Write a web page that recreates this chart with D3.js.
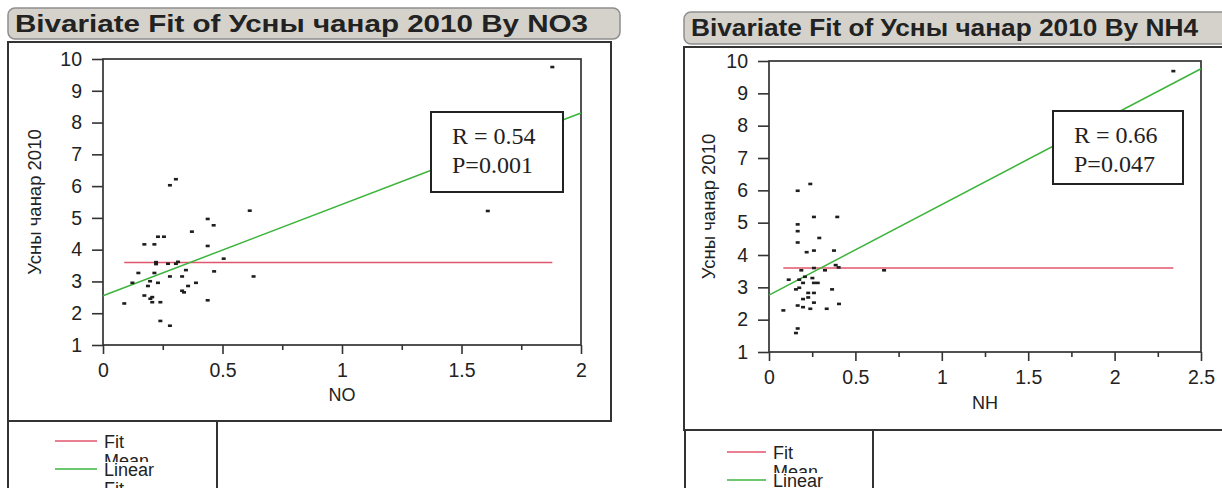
<!DOCTYPE html>
<html>
<head>
<meta charset="utf-8">
<script src="https://cdn.jsdelivr.net/npm/d3@7"></script>
<style>
  body { margin: 0; background: #fff; }
  svg { display: block; }
  text { font-family: "Liberation Sans", Arial, sans-serif; fill: #222; }
</style>
</head>
<body>
<div id="chart"></div>
<script>
// values
const yTitle = 'Усны чанар 2010';

// panel 1: Усны чанар 2010 by NO3
const noX = [0.305, 0.280, 0.614, 0.438, 0.463, 0.372, 0.230, 0.255, 0.173, 0.215,
             0.438, 0.505, 0.222, 0.222, 0.272, 0.305, 0.314, 0.347, 0.148, 0.215,
             0.465, 0.630, 0.280, 0.331, 0.197, 0.123, 0.230, 0.389, 0.188, 0.356,
             0.331, 0.339, 0.173, 0.206, 0.198, 0.206, 0.240, 0.438, 0.089, 0.240,
             0.280, 1.880, 1.610];
const noY = [6.22, 6.03, 5.23, 4.97, 4.77, 4.57, 4.41, 4.41, 4.17, 4.17,
             4.12, 3.72, 3.61, 3.55, 3.56, 3.56, 3.62, 3.36, 3.27, 3.27,
             3.32, 3.16, 3.16, 3.16, 3.01, 2.96, 2.96, 2.96, 2.86, 2.86,
             2.71, 2.66, 2.56, 2.51, 2.46, 2.35, 2.35, 2.41, 2.31, 1.76,
             1.61, 9.75, 5.22];
const noMean = { y: 3.6, from: 0.089, to: 1.88 };
const noLinear = [[0, 2.55], [2, 8.30]];
const noStats = ['R = 0.54', 'P=0.001'];

// panel 2: Усны чанар 2010 by NH4
const nhX = [0.239, 0.166, 0.260, 0.395, 0.166, 0.166, 0.291, 0.166, 0.218, 0.260,
             0.376, 0.386, 0.403, 0.260, 0.187, 0.324, 0.666, 0.208, 0.251, 0.114,
             0.175, 0.197, 0.260, 0.282, 0.175, 0.156, 0.365, 0.227, 0.260, 0.227,
             0.197, 0.260, 0.405, 0.166, 0.197, 0.239, 0.334, 0.083, 0.166, 0.156,
             2.340];
const nhY = [6.20, 5.99, 5.18, 5.18, 4.95, 4.74, 4.53, 4.39, 4.09, 4.14,
             4.14, 3.69, 3.62, 3.60, 3.53, 3.53, 3.53, 3.33, 3.29, 3.24,
             3.24, 3.14, 3.14, 3.14, 2.99, 2.94, 2.94, 2.83, 2.83, 2.69,
             2.64, 2.53, 2.49, 2.44, 2.39, 2.34, 2.34, 2.29, 1.73, 1.59,
             9.69];
const nhMean = { y: 3.6, from: 0.083, to: 2.34 };
const nhLinear = [[0, 2.76], [2.5, 9.76]];
const nhStats = ['R = 0.66', 'P=0.047'];

const yTicks = [1, 2, 3, 4, 5, 6, 7, 8, 9, 10];
const noTicks = [0, 0.5, 1, 1.5, 2];
const noMinor = [0.25, 0.75, 1.25, 1.75];
const nhTicks = [0, 0.5, 1, 1.5, 2, 2.5];
const nhMinor = [0.25, 0.75, 1.25, 1.75, 2.25];

const W = 1222, H = 488;
const svg = d3.select('#chart').append('svg')
    .attr('width', W)
    .attr('height', H);

const RED = '#e0566c', GREEN = '#3cb43c';

function drawPanel(p) {
    const g = svg.append('g');

    // title bar
    g.append('rect')
        .attr('x', p.title[0]).attr('y', p.title[1])
        .attr('width', p.title[2]).attr('height', p.title[3])
        .attr('rx', 7)
        .attr('fill', '#d5d2cb')
        .attr('stroke', '#8e8e8e')
        .attr('stroke-width', 1.5);
    g.append('text')
        .attr('x', p.title[0] + 7)
        .attr('y', p.titleBase)
        .attr('textLength', p.titleWidth)
        .attr('lengthAdjust', 'spacingAndGlyphs')
        .style('font-size', '24px')
        .style('font-weight', 'bold')
        .text(p.titleText);

    // outer frame + legend frame
    g.append('rect')
        .attr('x', p.frame[0]).attr('y', p.frame[1])
        .attr('width', p.frame[2]).attr('height', p.frame[3])
        .attr('fill', 'none').attr('stroke', '#333').attr('stroke-width', 2);
    g.append('rect')
        .attr('x', p.legend[0]).attr('y', p.legend[1])
        .attr('width', p.legend[2]).attr('height', p.legend[3])
        .attr('fill', 'none').attr('stroke', '#333').attr('stroke-width', 2);

    const x = d3.scaleLinear().domain(p.xDomain).range([p.plot.x0, p.plot.x1]);
    const y = d3.scaleLinear().domain([1, 10]).range([p.plot.y1, p.plot.y0]);

    // plot box
    g.append('rect')
        .attr('x', p.plot.x0).attr('y', p.plot.y0)
        .attr('width', p.plot.x1 - p.plot.x0).attr('height', p.plot.y1 - p.plot.y0)
        .attr('fill', 'none').attr('stroke', '#333').attr('stroke-width', 1.7);

    // axes
    const yAxis = g.append('g')
        .attr('transform', `translate(${p.plot.x0},0)`)
        .call(d3.axisLeft(y).tickValues(yTicks).tickSize(11).tickPadding(10).tickFormat(d3.format('d')));
    const xAxis = g.append('g')
        .attr('transform', `translate(0,${p.plot.y1})`)
        .call(d3.axisBottom(x).tickValues(p.xTicks).tickSize(9).tickPadding(9).tickFormat(d => String(d)));
    g.append('g')
        .attr('transform', `translate(0,${p.plot.y1})`)
        .call(d3.axisBottom(x).tickValues(p.xMinor).tickSize(5).tickFormat(''))
        .select('.domain').remove();
    [yAxis, xAxis].forEach(a => {
        a.select('.domain').remove();
        a.selectAll('text')
            .style('font-size', '19.5px')
            .style('font-family', '"Liberation Sans", Arial, sans-serif')
            .attr('fill', '#222');
    });
    g.selectAll('.tick line').attr('stroke', '#333').attr('stroke-width', 1.6);

    // axis titles
    g.append('text')
        .attr('transform', `translate(${p.yLabelX},${(p.plot.y0 + p.plot.y1) / 2}) rotate(-90)`)
        .attr('text-anchor', 'middle')
        .attr('dy', '0.35em')
        .style('font-size', '18.5px')
        .text(yTitle);
    g.append('text')
        .attr('x', (p.plot.x0 + p.plot.x1) / 2)
        .attr('y', p.xLabelY)
        .attr('text-anchor', 'middle')
        .style('font-size', '18px')
        .text(p.xTitle);

    // mean line
    g.append('line')
        .attr('x1', x(p.mean.from)).attr('x2', x(p.mean.to))
        .attr('y1', y(p.mean.y)).attr('y2', y(p.mean.y))
        .attr('stroke', RED).attr('stroke-width', 1.5);

    // linear fit line
    g.append('path')
        .datum(p.linear)
        .attr('d', d3.line().x(d => x(d[0])).y(d => y(d[1])))
        .attr('fill', 'none')
        .attr('stroke', GREEN).attr('stroke-width', 1.5);

    // points
    g.selectAll('rect.pt')
        .data(p.xs.map((v, i) => [v, p.ys[i]]))
        .enter().append('rect')
        .attr('class', 'pt')
        .attr('x', d => x(d[0]) - 2)
        .attr('y', d => y(d[1]) - 1.2)
        .attr('width', 4).attr('height', 2.6)
        .attr('fill', '#1e1e1e');

    // stats box
    g.append('rect')
        .attr('x', p.stat.x).attr('y', p.stat.y)
        .attr('width', p.stat.w).attr('height', p.stat.h)
        .attr('fill', '#fff').attr('stroke', '#222').attr('stroke-width', 2);
    p.stats.forEach((s, i) => {
        g.append('text')
            .attr('x', p.stat.x + 21)
            .attr('y', p.stat.y + 32 + i * 29)
            .style('font-family', '"Liberation Serif", "Times New Roman", serif')
            .style('font-size', '24px')
            .text(s);
    });

    // legend (JMP wraps and overlaps the labels)
    const lx = p.legendLine, ly = p.legendY;
    const items = [
        { color: RED, words: ['Fit', 'Mean'] },
        { color: GREEN, words: ['Linear', 'Fit'] }
    ];
    items.forEach((it, i) => {
        const cy = ly + i * 28;
        if (i > 0) {
            g.append('rect')
                .attr('x', lx[1] + 5).attr('y', cy - 7)
                .attr('width', 62).attr('height', 18)
                .attr('fill', '#fff');
        }
        g.append('line')
            .attr('x1', lx[0]).attr('x2', lx[1])
            .attr('y1', cy).attr('y2', cy)
            .attr('stroke', it.color).attr('stroke-width', 1.5);
        it.words.forEach((w, j) => {
            g.append('text')
                .attr('x', lx[1] + 7)
                .attr('y', cy + 7 + j * 19)
                .style('font-size', '18px')
                .text(w);
        });
    });
}

drawPanel({
    titleText: 'Bivariate Fit of Усны чанар 2010 By NO3',
    title: [8, 8, 612, 31], titleBase: 32, titleWidth: 573,
    frame: [8, 42, 603, 379],
    legend: [8, 421, 209, 80],
    plot: { x0: 103, x1: 581, y0: 59, y1: 345 },
    xDomain: [0, 2], xTicks: noTicks, xMinor: noMinor,
    xs: noX, ys: noY, mean: noMean, linear: noLinear, stats: noStats,
    xTitle: 'NO', yLabelX: 35, xLabelY: 401,
    stat: { x: 431, y: 112, w: 132, h: 80 },
    legendLine: [55, 97], legendY: 441
});

drawPanel({
    titleText: 'Bivariate Fit of Усны чанар 2010 By NH4',
    title: [684, 12, 560, 32], titleBase: 36, titleWidth: 507,
    frame: [684, 47, 560, 383],
    legend: [685, 430, 188, 80],
    plot: { x0: 769, x1: 1201, y0: 61, y1: 352 },
    xDomain: [0, 2.5], xTicks: nhTicks, xMinor: nhMinor,
    xs: nhX, ys: nhY, mean: nhMean, linear: nhLinear, stats: nhStats,
    xTitle: 'NH', yLabelX: 709, xLabelY: 409,
    stat: { x: 1053, y: 111, w: 130, h: 73 },
    legendLine: [727, 766], legendY: 452
});
</script>
</body>
</html>
